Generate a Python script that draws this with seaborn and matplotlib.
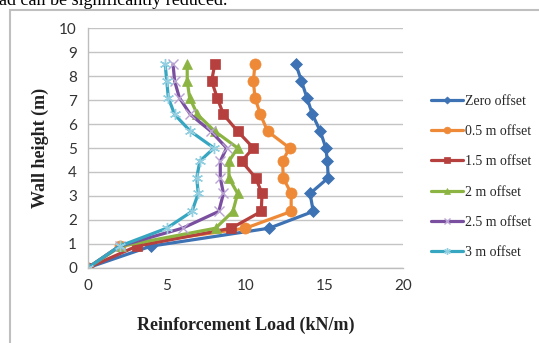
import numpy as np
import pandas as pd
import matplotlib
matplotlib.use("Agg")
import matplotlib.pyplot as plt
import seaborn as sns
from matplotlib.patches import Rectangle

# ---- data ----
heights = [0, 0.9, 1.65, 2.35, 3.1, 3.75, 4.45, 5.0, 5.7, 6.4, 7.1, 7.8, 8.5]
zero_offset = [0, 4.0, 11.5, 14.3, 14.1, 15.25, 15.2, 15.1, 14.75, 14.25, 13.9, 13.55, 13.2]
offset_05 = [0, 2.0, 10.0, 12.9, 12.9, 12.4, 12.35, 12.8, 11.4, 10.95, 10.6, 10.5, 10.6]
offset_15 = [0, 3.1, 9.1, 11.0, 11.05, 10.65, 9.75, 10.5, 9.5, 8.6, 8.2, 7.85, 8.05]
offset_2 = [0, 2.1, 8.1, 9.2, 9.5, 8.95, 8.95, 9.5, 8.05, 6.95, 6.45, 6.3, 6.3]
offset_25 = [0, 2.0, 6.0, 8.3, 8.6, 8.4, 8.4, 8.8, 7.8, 6.5, 5.8, 5.5, 5.4]
offset_3 = [0, 2.0, 5.0, 6.6, 7.0, 6.9, 7.1, 8.0, 6.5, 5.5, 5.1, 5.0, 4.9]
labels = ["Zero offset", "0.5 m offset", "1.5 m offset", "2 m offset", "2.5 m offset", "3 m offset"]
x_ticks = [0, 5, 10, 15, 20]
y_ticks = list(range(0, 11))

series = [zero_offset, offset_05, offset_15, offset_2, offset_25, offset_3]
colors = ["#3D72B4", "#EE8A37", "#B5403E", "#8CB443", "#7A4F9F", "#37A6C1"]
marker_colors = ["#3D72B4", "#EE8A37", "#B5403E", "#8CB443", "#B9A3D2", "#93CFE0"]
markers = ["D", "o", "s", "^", "x", (6, 2, 0)]
msizes = [6, 8, 7.5, 7.5, 7, 8]

sns.set_style("white")
W, H = 539, 343
fig = plt.figure(figsize=(W / 100, H / 100), dpi=100)
ax = fig.add_axes([88 / W, 1 - 267.7 / H, (403 - 88) / W, (267.7 - 28.3) / H])

for vals, lab, c, mc, m, ms in zip(series, labels, colors, marker_colors, markers, msizes):
    df = pd.DataFrame({"load": vals, "height": heights})
    sns.lineplot(data=df, x="load", y="height", sort=False, estimator=None, ax=ax, color=c,
                 linewidth=2.3, marker=m, markersize=ms, markeredgecolor=mc,
                 markerfacecolor=mc, markeredgewidth=1.0 if m in ("x",) or isinstance(m, tuple) else 0.5,
                 label=lab, legend=True)

ax.set_xlim(0, 20)
ax.set_ylim(0, 10)
ax.set_xticks(x_ticks)
ax.set_yticks(y_ticks)
ax.grid(axis="y", color="#C4C4C4", linewidth=1.0)
ax.grid(axis="x", visible=False)
for s in ["top", "right"]:
    ax.spines[s].set_visible(False)
for s in ["left", "bottom"]:
    ax.spines[s].set_color("#BDBDBD")
    ax.spines[s].set_linewidth(1.0)
ax.tick_params(axis="both", which="both", direction="out", length=4, color="#BDBDBD",
               labelsize=11, labelcolor="#333333", pad=4)
for t in ax.get_xticklabels() + ax.get_yticklabels():
    t.set_family("Lato")
ax.set_axisbelow(True)

ax.set_xlabel("Reinforcement Load (kN/m)", family="Liberation Serif", fontweight="bold",
              fontsize=13, color="#222222")
ax.set_ylabel("Wall height (m)", family="Liberation Serif", fontweight="bold",
              fontsize=13, color="#222222")
ax.xaxis.set_label_coords(0.5, -0.205)
ax.yaxis.set_label_coords(-0.125, 0.5)

handles, labs = ax.get_legend_handles_labels()
ax.get_legend().remove()
leg = fig.legend(handles, labs, loc="upper left", bbox_to_anchor=(425 / W, 1 - 89 / H),
                 frameon=False, prop={"family": "Liberation Serif", "size": 10},
                 handlelength=2.3, handletextpad=0.15, labelspacing=1.25, borderaxespad=0,
                 markerscale=0.6)

# outer frame of the embedded chart
fig.patches.append(Rectangle((10 / W, -0.1), 1.2, 1 - 10 / H + 0.1, transform=fig.transFigure,
                             fill=False, edgecolor="#BFBFBF", linewidth=1.5))

# cropped document text above the chart
fig.text(-0.002, 1 - 5 / H, "ad can be significantly reduced.", family="Liberation Serif",
         fontsize=13, va="baseline", ha="left", color="black")

fig.savefig("out.png", dpi=100)
